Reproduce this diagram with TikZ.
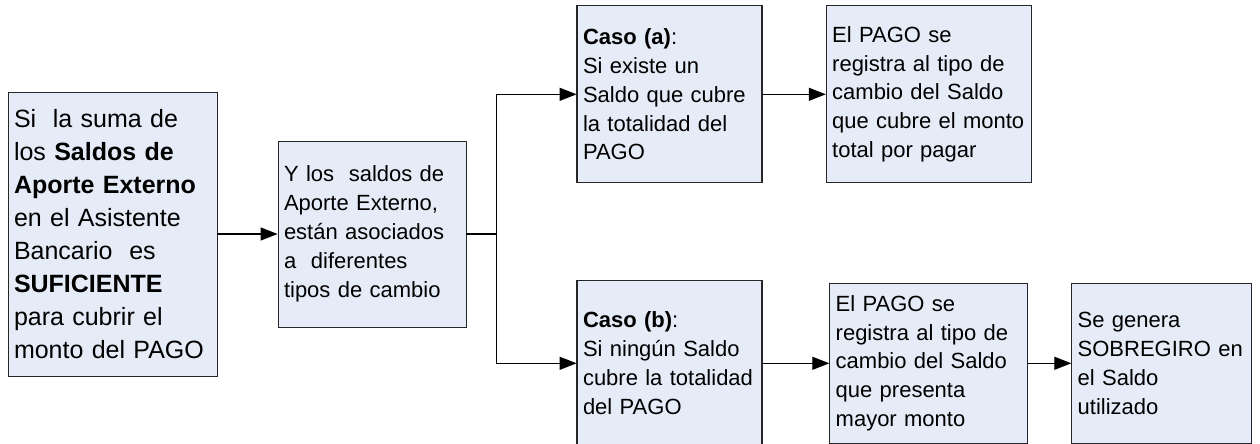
\documentclass[tikz,border=0pt]{standalone}
\usepackage{fontspec}
\setmainfont{Liberation Sans}
\usepackage{tikz}
\usetikzlibrary{arrows.meta}
\definecolor{cajafondo}{RGB}{230,236,247}

\begin{document}
\begin{tikzpicture}[grow'=right,
  caja/.style={draw=black!85, fill=cajafondo, align=left, inner sep=3pt,
    font=\fontsize{11}{14.45}\selectfont},
  edge from parent/.style={draw, line width=0.6pt, -{Triangle[length=8.5pt,width=6.5pt]}},
  edge from parent path={(\tikzparentnode.east) -- ++(15pt,0) |- (\tikzchildnode.west)},
  level 1/.style={level distance=129.75pt},
  level 2/.style={level distance=148.75pt, sibling distance=134.5pt},
  level 3/.style={level distance=129.6pt},
  level 4/.style={level distance=116.5pt}]
\useasboundingbox (0,0) rectangle (630pt,-222pt);
\node [caja, text width=98.5pt, minimum height=142pt, font=\fontsize{12.5}{16.45}\selectfont] (suma) at (56.25pt,-117pt)
  {Si\ \ la suma de\\los \textbf{Saldos de}\\\textbf{Aporte Externo}\\en el Asistente\\Bancario\ \ es\\\textbf{SUFICIENTE}\\para cubrir el\\monto del PAGO}
  child {node [caja, text width=88pt, minimum height=93pt] (tipos)
    {Y los\ \ saldos de\\Aporte Externo,\\están asociados\\a\ \ diferentes\\tipos de cambio}
    child {node [caja, text width=86.5pt, minimum height=88.5pt, yshift=2.6pt] (casoa)
      {\textbf{Caso (a)}:\\Si existe un\\Saldo que cubre\\la totalidad del\\PAGO}
      child {node [caja, text width=96.5pt, minimum height=88.5pt] (rega)
        {El PAGO se\\registra al tipo de\\cambio del Saldo\\que cubre el monto\\total por pagar}}
    }
    child {node [caja, text width=86.5pt, minimum height=83pt, yshift=2.6pt] (casob)
      {\textbf{Caso (b)}:\\Si ningún Saldo\\cubre la totalidad\\del PAGO}
      child {node [caja, text width=93pt, minimum height=80pt] (regb)
        {El PAGO se\\registra al tipo de\\cambio del Saldo\\que presenta\\mayor monto}
        child {node [caja, text width=84pt, minimum height=80pt] (sobregiro)
          {Se genera\\SOBREGIRO en\\el Saldo\\utilizado}}
      }
    }
  };
\end{tikzpicture}
\end{document}
